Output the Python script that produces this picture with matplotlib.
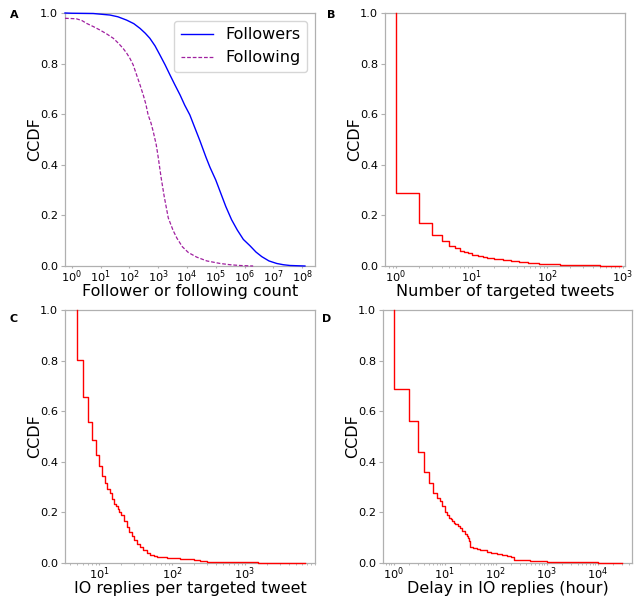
import numpy as np
import matplotlib
matplotlib.use("Agg")
import matplotlib.pyplot as plt

# ---- Data ----
# Panel A: log10 of count, and CCDF value
followers_log10x = [-0.24, 0, 0.74, 1.32, 1.6, 1.9, 2.15, 2.37, 2.55, 2.71, 2.89, 3.06,
                    3.24, 3.41, 3.58, 3.76, 3.92, 4.1, 4.24, 4.45, 4.66, 4.8, 5.0, 5.15,
                    5.35, 5.55, 5.75, 5.96, 6.19, 6.4, 6.6, 6.85, 7.12, 7.35, 7.58, 8.1]
followers_y = [1.0, 0.999, 0.998, 0.992, 0.985, 0.972, 0.958, 0.939, 0.92, 0.90, 0.87,
               0.834, 0.795, 0.755, 0.716, 0.676, 0.636, 0.597, 0.556, 0.495, 0.43, 0.39,
               0.34, 0.295, 0.235, 0.183, 0.142, 0.105, 0.08, 0.055, 0.037, 0.02, 0.01,
               0.005, 0.002, 0.0]

following_log10x = [-0.24, 0.0, 0.16, 0.35, 0.51, 0.75, 0.97, 1.2, 1.44, 1.62, 1.78, 1.9,
                    2.02, 2.13, 2.25, 2.37, 2.48, 2.57, 2.65, 2.75, 2.83, 2.93, 3.0, 3.1,
                    3.21, 3.35, 3.52, 3.65, 3.84, 4.05, 4.34, 4.69, 5.15, 5.5, 5.84, 6.3]
following_y = [0.979, 0.978, 0.977, 0.97, 0.959, 0.946, 0.933, 0.918, 0.90, 0.88, 0.86,
               0.842, 0.82, 0.795, 0.755, 0.715, 0.676, 0.64, 0.597, 0.565, 0.53, 0.48,
               0.43, 0.35, 0.274, 0.19, 0.14, 0.11, 0.076, 0.053, 0.035, 0.02, 0.01,
               0.005, 0.002, 0.0]

# Panel B
tweets_x = [1, 2, 3, 4, 5, 6, 7, 8, 9, 10, 12, 14, 16, 20, 26, 33, 43, 55, 78, 100, 150,
            250, 500, 950]
tweets_ccdf = [0.287, 0.169, 0.1225, 0.099, 0.080, 0.070, 0.061, 0.055, 0.050, 0.045,
               0.040, 0.036, 0.033, 0.028, 0.024, 0.020, 0.016, 0.012, 0.009, 0.006,
               0.004, 0.002, 0.001, 0.0]

# Panel C
replies_x = [5, 6, 7, 8, 9, 10, 11, 12, 13, 14, 15, 16, 17, 18, 19, 20, 22, 24, 26, 28,
             30, 33, 36, 40, 45, 50, 56, 62, 70, 85, 100, 130, 176, 200, 240, 300, 400,
             700, 1500, 3000, 6600]
replies_ccdf = [0.802, 0.657, 0.559, 0.486, 0.427, 0.385, 0.345, 0.315, 0.292, 0.275,
                0.252, 0.235, 0.226, 0.212, 0.2, 0.188, 0.165, 0.142, 0.122, 0.106,
                0.092, 0.074, 0.062, 0.05, 0.04, 0.033, 0.028, 0.025, 0.022, 0.019,
                0.018, 0.016, 0.014, 0.012, 0.007, 0.005, 0.003, 0.002, 0.0015, 0.001,
                0.0]

# Panel D
delay_x = [1, 2, 3, 4, 5, 6, 7, 8, 9, 10, 11, 12, 13, 14, 15, 16, 18, 20, 22, 25, 27,
           29, 30, 31, 35, 42, 50, 66, 80, 105, 130, 165, 200, 230, 300, 470, 700, 1000,
           2000, 5000, 10000, 30000]
delay_ccdf = [0.687, 0.561, 0.437, 0.361, 0.315, 0.275, 0.256, 0.245, 0.225, 0.200,
              0.19, 0.178, 0.172, 0.165, 0.16, 0.155, 0.146, 0.137, 0.128, 0.113, 0.105,
              0.097, 0.085, 0.065, 0.06, 0.055, 0.05, 0.043, 0.04, 0.036, 0.032, 0.028,
              0.024, 0.012, 0.01, 0.009, 0.006, 0.004, 0.003, 0.002, 0.001, 0.0]

yticks = [0.0, 0.2, 0.4, 0.6, 0.8, 1.0]

# ---- Figure ----
W, H = 634, 597
fig = plt.figure(figsize=(W / 100, H / 100), dpi=100)

def box(l, r, t, b):
    return [l / W, 1 - b / H, (r - l) / W, (b - t) / H]

axA = fig.add_axes(box(65, 315, 13, 266))
axB = fig.add_axes(box(385, 625, 13, 266))
axC = fig.add_axes(box(65, 315, 310, 563))
axD = fig.add_axes(box(383, 632, 310, 563))

spine_col = "#b0b0b0"
tick_fs = 8.2
label_fs = 11.5

def style(ax, xlabel, xlim):
    ax.set_xscale("log")
    ax.set_xlim(*xlim)
    ax.set_ylim(0, 1)
    ax.set_yticks(yticks)
    ax.set_yticklabels([f"{v:.1f}" for v in yticks])
    for s in ax.spines.values():
        s.set_color(spine_col)
        s.set_linewidth(0.9)
    ax.tick_params(axis="y", which="major", labelsize=tick_fs, color=spine_col,
                   length=3, width=0.8, pad=2)
    ax.tick_params(axis="x", which="major", labelsize=tick_fs, color=spine_col,
                   length=1.5, width=0.8, pad=0)
    ax.tick_params(axis="x", which="minor", color=spine_col, length=1.5, width=0.6)
    ax.set_xlabel(xlabel, fontsize=label_fs, labelpad=-0.5)
    ax.set_ylabel("CCDF", fontsize=label_fs, labelpad=-1.5)

def ccdf_step(ax, xs, ys):
    x = np.r_[xs[0], xs]
    y = np.r_[1.0, ys]
    ax.step(x, y, where="post", color="red", lw=1.0, zorder=3, clip_on=False)

# Panel A
xlimA = (10 ** -0.24, 10 ** 8.45)
axA.plot(10 ** np.array(followers_log10x), followers_y, color="blue", lw=1.0,
         label="Followers", zorder=3, clip_on=False)
axA.plot(10 ** np.array(following_log10x), following_y, color="#a020a0", lw=0.9,
         ls="--", dashes=(3, 1.5), label="Following", zorder=3, clip_on=False)
style(axA, "Follower or following count", xlimA)
axA.set_xticks([10 ** k for k in range(0, 9)])
leg = axA.legend(loc="upper right", fontsize=label_fs)

# Panel B
ccdf_step(axB, tweets_x, tweets_ccdf)
style(axB, "Number of targeted tweets", (10 ** -0.146, 10 ** 3.03))

# Panel C
ccdf_step(axC, replies_x, replies_ccdf)
style(axC, "IO replies per targeted tweet", (10 ** 0.534, 10 ** 3.96))

# Panel D
ccdf_step(axD, delay_x, delay_ccdf)
style(axD, "Delay in IO replies (hour)", (10 ** -0.21, 10 ** 4.67))

for letter, (px, py) in zip("ABCD", [(14, 15), (331, 15), (14, 319), (327, 319)]):
    fig.text(px / W, 1 - py / H, letter, fontsize=8, fontweight="bold",
             ha="center", va="center")

fig.savefig("out.png", dpi=100)
